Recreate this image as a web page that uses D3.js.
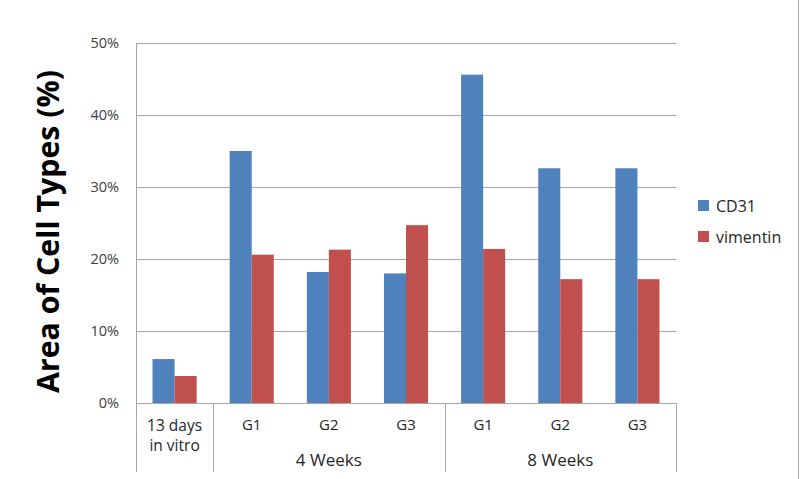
<!DOCTYPE html>
<html>
<head>
<meta charset="utf-8">
<script src="https://cdn.jsdelivr.net/npm/d3@7"></script>
<style>
  body { margin: 0; background: #fff; }
  svg { display: block; font-family: "Open Sans", sans-serif; }
</style>
</head>
<body>
<div id="chart"></div>
<script>
// categories, groups and series values (percent)
var groups = ["13 days in vitro", "4 Weeks", "4 Weeks", "4 Weeks", "8 Weeks", "8 Weeks", "8 Weeks"];
var categories = ["", "G1", "G2", "G3", "G1", "G2", "G3"];
var cd31 = [6.1, 35.0, 18.2, 18.0, 45.6, 32.6, 32.6];
var vimentin = [3.75, 20.6, 21.3, 24.7, 21.4, 17.2, 17.2];
var seriesNames = ["CD31", "vimentin"];
var yTicks = [0, 10, 20, 30, 40, 50];

var width = 800, height = 479;
// plot box (note: "top" is reserved on window, so use plot* names)
var plotLeft = 136, plotRight = 676, plotTop = 43, plotBottom = 403;
var colors = ["#4f81bd", "#c0504d"];

var svg = d3.select("#chart").append("svg")
  .attr("width", width)
  .attr("height", height);

var x = d3.scaleBand()
  .domain(d3.range(categories.length))
  .range([plotLeft, plotRight]);

var y = d3.scaleLinear()
  .domain([0, 50])
  .range([plotBottom, plotTop]);

// gridlines
svg.append("g")
  .selectAll("line")
  .data(yTicks)
  .enter()
  .append("line")
  .attr("x1", plotLeft)
  .attr("x2", plotRight)
  .attr("y1", function (d) { return Math.round(y(d)) + 0.5; })
  .attr("y2", function (d) { return Math.round(y(d)) + 0.5; })
  .attr("stroke", "#a6a6a6")
  .attr("stroke-width", 1);

// y axis line
svg.append("line")
  .attr("x1", plotLeft + 0.5).attr("x2", plotLeft + 0.5)
  .attr("y1", plotTop).attr("y2", plotBottom)
  .attr("stroke", "#a6a6a6");

// y tick labels
svg.append("g")
  .selectAll("text")
  .data(yTicks)
  .enter()
  .append("text")
  .attr("x", 119)
  .attr("y", function (d) { return y(d); })
  .attr("dy", "0.35em")
  .attr("text-anchor", "end")
  .attr("font-size", 14.5)
  .attr("fill", "#404040")
  .text(function (d) { return d + "%"; });

// bars
var bw = x.bandwidth() / 3.5;
var series = [cd31, vimentin];
series.forEach(function (vals, s) {
  svg.append("g")
    .selectAll("rect")
    .data(vals)
    .enter()
    .append("rect")
    .attr("x", function (d, i) { return x(i) + x.bandwidth() / 2 - bw + s * bw; })
    .attr("y", function (d) { return y(d); })
    .attr("width", bw)
    .attr("height", function (d) { return y(0) - y(d); })
    .attr("fill", colors[s]);
});

// category separators below the axis
var seps = [0, 1, 4, 7];
svg.append("g")
  .selectAll("line")
  .data(seps)
  .enter()
  .append("line")
  .attr("x1", function (d) { return d === 7 ? plotRight + 0.5 : Math.round(x(d)) + 0.5; })
  .attr("x2", function (d) { return d === 7 ? plotRight + 0.5 : Math.round(x(d)) + 0.5; })
  .attr("y1", plotBottom)
  .attr("y2", 472)
  .attr("stroke", "#a6a6a6");

// G labels
svg.append("g")
  .selectAll("text")
  .data(categories)
  .enter()
  .append("text")
  .attr("x", function (d, i) { return x(i) + x.bandwidth() / 2; })
  .attr("y", 430)
  .attr("text-anchor", "middle")
  .attr("font-size", 15)
  .attr("fill", "#262626")
  .text(function (d) { return d; });

// group labels
var groupNames = [];
groups.forEach(function (g, i) {
  var last = groupNames[groupNames.length - 1];
  if (last && last.name === g) last.end = i;
  else groupNames.push({ name: g, start: i, end: i });
});

groupNames.forEach(function (g) {
  var cx = (x(g.start) + x(g.end) + x.bandwidth()) / 2;
  if (g.start === g.end) {
    var words = g.name.split(" ");
    var t = svg.append("text")
      .attr("x", cx)
      .attr("text-anchor", "middle")
      .attr("font-size", 15.5)
      .attr("fill", "#262626");
    t.append("tspan").attr("x", cx).attr("y", 431).text(words.slice(0, 2).join(" "));
    t.append("tspan").attr("x", cx).attr("y", 451).text(words.slice(2).join(" "));
  } else {
    svg.append("text")
      .attr("x", cx)
      .attr("y", 466)
      .attr("text-anchor", "middle")
      .attr("font-size", 17)
      .attr("fill", "#262626")
      .text(g.name);
  }
});

// y axis title
svg.append("text")
  .attr("transform", "translate(59," + ((70 + 393) / 2) + ") rotate(-90)")
  .attr("text-anchor", "middle")
  .attr("font-size", 30)
  .attr("font-weight", "bold")
  .attr("fill", "#000")
  .attr("textLength", 323)
  .attr("lengthAdjust", "spacingAndGlyphs")
  .text("Area of Cell Types (%)");

// legend
var legend = svg.selectAll(".legend")
  .data(seriesNames)
  .enter()
  .append("g")
  .attr("transform", function (d, i) { return "translate(698," + (200 + i * 31) + ")"; });

legend.append("rect")
  .attr("width", 11)
  .attr("height", 11)
  .attr("fill", function (d, i) { return colors[i]; });

legend.append("text")
  .attr("x", 18)
  .attr("y", 11.5)
  .attr("font-size", 16)
  .attr("fill", "#262626")
  .text(function (d) { return d; });

// outer frame edge on right
svg.append("line")
  .attr("x1", 798.5).attr("x2", 798.5)
  .attr("y1", 0).attr("y2", height)
  .attr("stroke", "#a6a6a6");
</script>
</body>
</html>
